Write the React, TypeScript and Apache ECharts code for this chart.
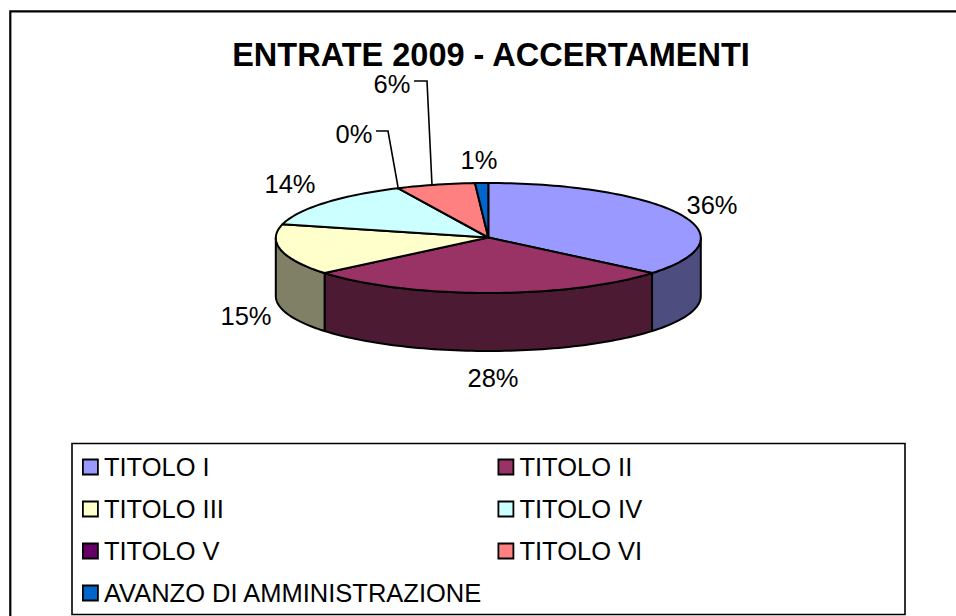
import React, { useEffect, useRef } from "react";
import * as echarts from "echarts";

const titleText = "ENTRATE 2009 - ACCERTAMENTI";
const categories = ["TITOLO I", "TITOLO II", "TITOLO III", "TITOLO IV", "TITOLO V", "TITOLO VI", "AVANZO DI AMMINISTRAZIONE"];
const percentages = [36, 28, 15, 14, 0, 6, 1];
const topColors = ["#9999FF", "#993366", "#FFFFCC", "#CCFFFF", "#660066", "#FF8080", "#0066CC"];
const sideColors = ["#4D4D80", "#4D1A33", "#808066", "#668080", "#330033", "#804040", "#003366"];
const legendLeftColumn = ["TITOLO I", "TITOLO III", "TITOLO V", "AVANZO DI AMMINISTRAZIONE"];
const legendRightColumn = ["TITOLO II", "TITOLO IV", "TITOLO VI"];

const FONT = '"Liberation Sans", Arial, sans-serif';
const CX = 488.3, CY = 238, RX = 212.5, RY = 55, DEPTH = 58;
const LABEL_AT: [number, number][] = [[712, 205], [493, 378], [246, 316], [290, 184], [354, 134], [392, 84], [479, 160]];
const LEADERS: Record<number, [number, number][]> = {
  4: [[376, 131], [388, 131], [398, 187]],
  5: [[414, 81], [427, 81], [432, 185]],
};

const total = percentages.reduce((a, b) => a + b, 0);
const pointAt = (deg: number, dy = 0): [number, number] => {
  const r = (deg * Math.PI) / 180;
  return [CX + RX * Math.sin(r), CY - RY * Math.cos(r) + dy];
};
const arc = (from: number, to: number, dy = 0) => {
  const pts: [number, number][] = [];
  const n = Math.max(1, Math.ceil(Math.abs(to - from) / 1.5));
  for (let i = 0; i <= n; i++) pts.push(pointAt(from + ((to - from) * i) / n, dy));
  return pts;
};

const makeRenderItem = (index: number) => (_params: any, api: any) => {
  const value = api.value(0);
  const before = percentages.slice(0, index).reduce((a, b) => a + b, 0);
  const a0 = (before / total) * 360;
  const a1 = ((before + value) / total) * 360;
  const children: any[] = [];
  const sideFrom = Math.max(a0, 90), sideTo = Math.min(a1, 270);
  const lineStyle = { stroke: "#000", lineWidth: 2, lineJoin: "round" };
  if (sideTo > sideFrom) {
    children.push({
      type: "polygon",
      shape: { points: [...arc(sideFrom, sideTo), ...arc(sideTo, sideFrom, DEPTH)] },
      style: { fill: sideColors[index], ...lineStyle },
    });
  }
  if (value > 0) {
    children.push({
      type: "polygon",
      shape: { points: [[CX, CY - 0.5], ...arc(a0, a1)] },
      style: { fill: topColors[index], ...lineStyle },
    });
  }
  if (LEADERS[index]) {
    children.push({
      type: "polyline",
      shape: { points: LEADERS[index] },
      style: { stroke: "#000", lineWidth: 1.6, fill: "none" },
    });
  }
  children.push({
    type: "text",
    x: LABEL_AT[index][0],
    y: LABEL_AT[index][1],
    style: {
      text: `${value}%`,
      fill: "#000",
      font: `25.5px ${FONT}`,
      textAlign: "center",
      textVerticalAlign: "middle",
    },
  });
  return { type: "group", children };
};

const legendBase = {
  orient: "vertical",
  icon: "rect",
  itemWidth: 15,
  itemHeight: 15,
  itemGap: 16,
  padding: 0,
  selectedMode: false,
  itemStyle: { borderColor: "#000", borderWidth: 1.8 },
  textStyle: { color: "#000", fontFamily: FONT, fontSize: 25.5, lineHeight: 24, padding: [0, 0, 0, 1] },
};

export default function App() {
  const ref = useRef<HTMLDivElement>(null);
  useEffect(() => {
    document.body.style.margin = "0";
    document.body.style.overflow = "hidden";
    const chart = echarts.init(ref.current!, undefined, { renderer: "svg" });
    chart.setOption({
      animation: false,
      backgroundColor: "#fff",
      title: {
        text: titleText,
        left: 491,
        top: 41,
        padding: 0,
        textAlign: "center",
        textStyle: { color: "#000", fontFamily: FONT, fontWeight: "bold", fontSize: 32.5, lineHeight: 28 },
      },
      legend: [
        { ...legendBase, left: 82, top: 454, data: legendLeftColumn },
        { ...legendBase, left: 497.5, top: 454, data: legendRightColumn },
      ],
      graphic: [
        { type: "rect", silent: true, z: -1, shape: { x: 10.3, y: 11.3, width: 1000, height: 700 }, style: { fill: "none", stroke: "#000", lineWidth: 2.2 } },
        { type: "rect", silent: true, z: -1, shape: { x: 72, y: 443.5, width: 833, height: 171 }, style: { fill: "#fff", stroke: "#000", lineWidth: 1.6 } },
      ],
      series: categories.map((name, i) => ({
        type: "custom",
        name,
        coordinateSystem: "none",
        silent: true,
        itemStyle: { color: topColors[i] },
        renderItem: makeRenderItem(i),
        data: [[percentages[i]]],
      })),
    });
    return () => chart.dispose();
  }, []);
  return <div ref={ref} style={{ position: "absolute", left: 0, top: 0, width: 956, height: 616 }} />;
}
